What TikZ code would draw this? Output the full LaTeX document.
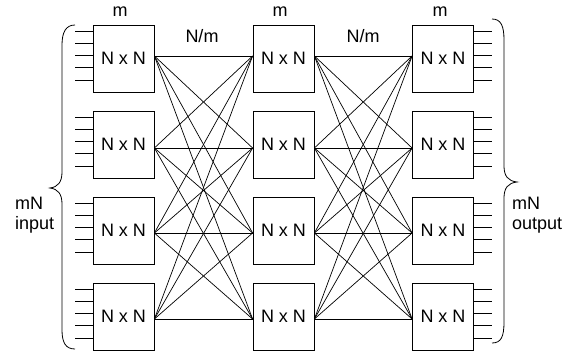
\documentclass[tikz,border=0pt]{standalone}
\usepackage{fontspec}
\setmainfont{Liberation Sans}
\begin{document}
\begin{tikzpicture}[x=1pt,y=-1pt,
  font=\fontsize{18}{20.5}\selectfont,
  box/.style={draw, line width=0.8pt, minimum width=61pt, minimum height=67pt, inner sep=0pt},
  wire/.style={line width=0.7pt},
  lbl/.style={inner sep=0pt}]
\useasboundingbox (0,0) rectangle (571,351);
% boxes
\foreach \r/\c/\s in {1/58.5/2.5,2/144.5/-3.5,3/230.5/-2.5,4/316.5/-2.5}{
  \node[box] (L\r) at (123.5,\c) {N x N};
  \node[box] (M\r) at (283.5,\c) {N x N};
  \node[box] (R\r) at (443,\c) {N x N};
  \coordinate (L\r o) at ([yshift=\s pt]L\r.east);
  \coordinate (M\r i) at ([yshift=\s pt]M\r.west);
  \coordinate (M\r o) at ([yshift=\s pt]M\r.east);
  \coordinate (R\r i) at ([yshift=\s pt]R\r.west);
  \foreach \k in {0,...,4}{
    \draw[wire] ([yshift={-6.5-12.2*\k}]L\r.north west) -- ++(-18,0);
    \draw[wire] ([yshift={-6.5-12.2*\k}]R\r.north east) -- ++(18,0);
  }
}
% interconnections
\foreach \i in {1,...,4}{
  \foreach \j in {1,...,4}{
    \draw[wire] (L\i o) -- (M\j i);
    \draw[wire] (M\i o) -- (R\j i);
  }
}
% labels
\node[lbl, anchor=base] (m1) at (120,16) {m};
\node[lbl, anchor=base] (m2) at (280,16) {m};
\node[lbl, anchor=base] (m3) at (440,16) {m};
\node[lbl, anchor=base] (nm1) at (202,42) {N/m};
\node[lbl, anchor=base] (nm2) at (363,42) {N/m};
\node[lbl, anchor=west, align=left] (inp) at (15,215) {mN\\input};
\node[lbl, anchor=west, align=left] (outp) at (512,215) {mN\\output};
% braces
\draw[line width=0.8pt] (75,25) .. controls (66,25) and (62,32) .. (62,45) -- (62,172)
  .. controls (62,182) and (58,187) .. (50,188)
  .. controls (58,189) and (62,194) .. (62,204) -- (62,330)
  .. controls (62,343) and (66,349) .. (75,349);
\draw[line width=0.8pt] (492,19) .. controls (501,19) and (504,26) .. (504,40) -- (504,166)
  .. controls (504,176) and (508,181) .. (517,182)
  .. controls (508,183) and (504,188) .. (504,198) -- (504,322)
  .. controls (504,337) and (501,343) .. (492,343);
\end{tikzpicture}
\end{document}
